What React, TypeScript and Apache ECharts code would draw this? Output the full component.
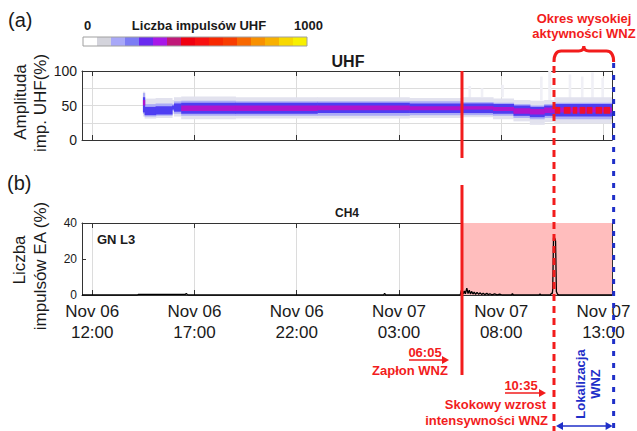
import React, { useEffect, useRef } from 'react';
import * as echarts from 'echarts';

const FONT = '"Liberation Sans", Arial, Helvetica, sans-serif';
const RED = '#f21c1c';
const BLUE = '#1f2fc8';

// x axis: hours counted from Nov 06 00:00
const xMinHour = 11.5;
const xMaxHour = 37.42;
const xTickHours = [12, 17, 22, 27, 32, 37];
const xTickLabels = ['Nov 06\n12:00', 'Nov 06\n17:00', 'Nov 06\n22:00', 'Nov 07\n03:00', 'Nov 07\n08:00', 'Nov 07\n13:00'];

const uhfYLabels = [0, 50, 100];

const ignitionHour = 30 + 5 / 60; // Nov 07 06:05
const jumpHour = 34 + 35 / 60; // Nov 07 10:35
const locateEndHour = 37.5; // Nov 07 13:30

const colorbarColors = [
  '#ffffff', '#d4d4dc', '#a8a8f8', '#7c7cf4', '#6a2af0', '#a818e8', '#c01878', '#f00010',
  '#f81010', '#f82800', '#f83c00', '#f86800', '#f89000', '#f8b000', '#f8d800', '#f8f000',
];

// UHF amplitude band segments (%)
const uhfSegStart = [14.48, 14.56, 15.1, 15.9, 16.0, 16.35, 19.0, 23.0, 27.5, 30.1, 31.6, 32.6, 33.4, 34.1, 34.6];
const uhfSegEnd = [14.56, 15.1, 15.9, 16.0, 16.35, 19.0, 23.0, 27.5, 30.1, 31.6, 32.6, 33.4, 34.1, 34.6, 37.42];
const uhfHaloLow = [34, 31, 32, 38, 34, 30, 31, 31, 32, 33, 30, 27, 22, 26, 24];
const uhfHaloHigh = [70, 60, 61, 58, 62, 63, 62, 62, 61, 62, 60, 58, 57, 58, 62];
const uhfLightLow = [38, 34, 35, 42, 38, 35, 35, 35, 36, 36, 35, 32, 30, 32, 30];
const uhfLightHigh = [68, 52, 53, 52, 56, 57, 56, 56, 56, 55, 54, 52, 50, 52, 54];
const uhfBlueLow = [40, 36, 37, 44, 41, 38, 38, 39, 39, 39, 38, 35, 33, 35, 34];
const uhfBlueHigh = [62, 48, 49, 50, 53, 54, 54, 54, 53, 53, 52, 50, 48, 50, 52];
const uhfCoreLow = [50, null, null, null, null, 42, 42, 43, 43, 44, 42, 38, 37, 39, 40];
const uhfCoreHigh = [58, null, null, null, null, 50, 50, 50, 49, 49, 48, 46, 45, 47, 47];

// red (high count) blocks after 10:35
const uhfRedStart = [34.62, 35.06, 35.5, 35.84, 36.18, 36.62, 37.01];
const uhfRedEnd = [34.86, 35.36, 35.69, 36.09, 36.43, 36.91, 37.3];
const uhfRedLow = [38, 38, 38, 38, 38, 38, 38];
const uhfRedHigh = [48, 48, 48, 48, 48, 48, 48];

// sparse scattered pulses above the band
const uhfScatStart = [30.4, 31.0, 32.0, 33.9, 34.3, 35.3, 35.9, 36.4, 36.9];
const uhfScatEnd = [30.5, 31.1, 32.1, 34.0, 34.42, 35.4, 36.0, 36.5, 37.0];
const uhfScatLow = [60, 62, 62, 58, 58, 58, 58, 60, 58];
const uhfScatHigh = [78, 75, 80, 92, 100, 95, 92, 98, 90];

// CH4 acoustic emission pulse count (%)
const ch4Hours = [11.5, 14.2, 14.25, 16.55, 16.6, 16.65, 16.7, 26.25, 26.3, 26.35,
  30.0, 30.05, 30.08, 30.12, 30.15, 30.2, 30.25, 30.32, 30.38, 30.44,
  30.5, 30.56, 30.62, 30.68, 30.75, 30.82, 30.9, 30.96, 31.05, 31.12,
  31.2, 31.3, 31.38, 31.45, 31.55, 31.68, 31.8, 31.93, 32.05, 32.5,
  32.55, 32.6, 33.85, 33.9, 33.95, 34.4, 34.47, 34.5, 34.52, 34.56,
  34.62, 34.66, 34.7, 34.75, 34.82, 37.42];
const ch4Values = [0, 0, 0.3, 0.3, 0.8, 0.3, 0, 0, 1.0, 0,
  0, 2.5, 0.8, 2.0, 0.6, 2.2, 0.7, 3.8, 0.8, 2.6,
  0.6, 2.0, 0.5, 1.6, 0.4, 1.5, 0.3, 1.2, 0.3, 1.0,
  0.2, 0.9, 0.2, 0.7, 0.1, 0.6, 0.1, 0.5, 0, 0,
  0.8, 0, 0, 0.5, 0, 0, 1.0, 0.8, 3.0, 31.8,
  31.5, 30.0, 2.0, 0.5, 0, 0];

const uhfColors = ['#f0f0f6', '#e2e2ee', '#acacf6', '#4e3ef2', '#b014cc', '#ee1030'];

echarts.graphic.registerShape(
  'brace',
  echarts.graphic.extendPath('M0,16 Q0,5 7,5 L24,5 Q29,5 29,0 Q29,5 34,5 L51,5 Q58,5 58,16', {}) as any
);

function buildUhfData() {
  const d: number[][] = [];
  for (let i = 0; i < uhfScatStart.length; i++) d.push([uhfScatStart[i], uhfScatEnd[i], uhfScatLow[i], uhfScatHigh[i], 0]);
  for (let i = 0; i < uhfSegStart.length; i++) d.push([uhfSegStart[i], uhfSegEnd[i], uhfHaloLow[i], uhfHaloHigh[i], 1]);
  for (let i = 0; i < uhfSegStart.length; i++) d.push([uhfSegStart[i], uhfSegEnd[i], uhfLightLow[i], uhfLightHigh[i], 2]);
  for (let i = 0; i < uhfSegStart.length; i++) d.push([uhfSegStart[i], uhfSegEnd[i], uhfBlueLow[i], uhfBlueHigh[i], 3]);
  for (let i = 0; i < uhfSegStart.length; i++) {
    if (uhfCoreLow[i] != null) d.push([uhfSegStart[i], uhfSegEnd[i], uhfCoreLow[i] as number, uhfCoreHigh[i] as number, 4]);
  }
  for (let i = 0; i < uhfRedStart.length; i++) d.push([uhfRedStart[i], uhfRedEnd[i], uhfRedLow[i], uhfRedHigh[i], 5]);
  return d;
}

function tickLabel(v: number) {
  const i = xTickHours.findIndex((h) => Math.abs(h - v) < 1e-6);
  return i >= 0 ? xTickLabels[i] : '';
}

const axisLineStyle = { color: '#333', width: 1 };
const gridLine = { color: '#dcdcdc', width: 1 };

function xAxisDef(gridIndex: number, position: 'top' | 'bottom', labels: boolean, split: boolean) {
  return {
    type: 'value',
    gridIndex,
    position,
    min: xMinHour,
    max: xMaxHour,
    axisLine: { show: true, onZero: false, lineStyle: axisLineStyle },
    axisTick: { show: true, inside: true, length: 5, customValues: xTickHours, lineStyle: axisLineStyle },
    axisLabel: {
      show: labels,
      customValues: xTickHours,
      formatter: (v: number) => tickLabel(v),
      fontSize: 17,
      lineHeight: 21,
      color: '#1a1a1a',
      fontFamily: FONT,
      margin: 6,
    },
    splitLine: { show: split, lineStyle: gridLine },
  };
}

function text(x: number, y: number, t: string, o: any = {}) {
  return {
    type: 'text',
    x,
    y,
    rotation: o.rotation || 0,
    z: 120,
    style: {
      text: t,
      fill: o.fill || '#1a1a1a',
      fontSize: o.fontSize || 13,
      fontWeight: o.fontWeight || 'normal',
      fontFamily: FONT,
      align: o.align || 'center',
      verticalAlign: 'middle',
    },
  };
}

function vline(x: number, y1: number, y2: number, stroke: string, lineWidth: number, lineDash?: number[]) {
  return {
    type: 'line',
    z: 110,
    shape: { x1: x, y1, x2: x, y2 },
    style: { stroke, lineWidth, lineDash: lineDash || null },
  };
}

function arrow(x1: number, x2: number, y: number, color: string, both: boolean) {
  const els: any[] = [
    { type: 'line', z: 110, shape: { x1: x1 + (both ? 5 : 0), y1: y, x2: x2 - 5, y2: y }, style: { stroke: color, lineWidth: 1.5 } },
    { type: 'polygon', z: 110, shape: { points: [[x2 - 7, y - 4], [x2, y], [x2 - 7, y + 4]] }, style: { fill: color } },
  ];
  if (both) {
    els.push({ type: 'polygon', z: 110, shape: { points: [[x1 + 7, y - 4], [x1, y], [x1 + 7, y + 4]] }, style: { fill: color } });
  }
  return els;
}

export default function App() {
  const ref = useRef<HTMLDivElement>(null);
  useEffect(() => {
    if (!ref.current) return;
    const chart = echarts.init(ref.current, null, { renderer: 'svg' });
    const option: any = {
      animation: false,
      backgroundColor: '#ffffff',
      textStyle: { fontFamily: FONT },
      grid: [
        { left: 82, right: 25, top: 71, height: 69 },
        { left: 82, right: 25, top: 223, height: 72 },
      ],
      xAxis: [
        xAxisDef(0, 'bottom', false, true),
        xAxisDef(0, 'top', false, false),
        xAxisDef(1, 'bottom', true, true),
        xAxisDef(1, 'top', false, false),
      ],
      yAxis: [
        {
          type: 'value', gridIndex: 0, position: 'left', min: 0, max: 100, interval: 25,
          axisLine: { show: true, lineStyle: axisLineStyle },
          axisTick: { show: false },
          axisLabel: {
            fontSize: 14, color: '#1a1a1a', margin: 5, fontFamily: FONT,
            formatter: (v: number) => (uhfYLabels.indexOf(v) >= 0 ? String(v) : ''),
          },
          splitLine: { show: true, lineStyle: gridLine },
        },
        {
          type: 'value', gridIndex: 0, position: 'right', min: 0, max: 100, interval: 25,
          axisLine: { show: true, lineStyle: axisLineStyle },
          axisTick: { show: false }, axisLabel: { show: false }, splitLine: { show: false },
        },
        {
          type: 'value', gridIndex: 1, position: 'left', min: 0, max: 40, interval: 20,
          axisLine: { show: true, lineStyle: axisLineStyle },
          axisTick: { show: true, inside: true, length: 4, lineStyle: axisLineStyle },
          axisLabel: { fontSize: 12, color: '#1a1a1a', margin: 5, fontFamily: FONT },
          splitLine: { show: false },
        },
        {
          type: 'value', gridIndex: 1, position: 'right', min: 0, max: 40, interval: 20,
          axisLine: { show: true, lineStyle: axisLineStyle },
          axisTick: { show: true, inside: true, length: 4, lineStyle: axisLineStyle },
          axisLabel: { show: false }, splitLine: { show: false },
        },
      ],
      series: [
        {
          type: 'custom',
          xAxisIndex: 0,
          yAxisIndex: 0,
          clip: true,
          encode: { x: [0, 1], y: [2, 3] },
          data: buildUhfData(),
          renderItem: (params: any, api: any) => {
            const p0 = api.coord([api.value(0), api.value(3)]);
            const p1 = api.coord([api.value(1), api.value(2)]);
            return {
              type: 'rect',
              shape: { x: p0[0], y: p0[1], width: Math.max(p1[0] - p0[0] + 0.6, 1), height: p1[1] - p0[1] },
              style: { fill: uhfColors[api.value(4)] },
            };
          },
        },
        {
          type: 'line',
          xAxisIndex: 2,
          yAxisIndex: 2,
          data: ch4Hours.map((h, i) => [h, ch4Values[i]]),
          showSymbol: false,
          lineStyle: { color: '#000', width: 1.3 },
          z: 3,
          markArea: {
            silent: true,
            itemStyle: { color: '#ffbdbd', opacity: 1 },
            data: [[{ xAxis: ignitionHour }, { xAxis: xMaxHour }]],
          },
        },
      ],
    };
    chart.setOption(option);

    const X = (h: number) => chart.convertToPixel({ xAxisIndex: 0 }, h) as number;
    const xIgn = X(ignitionHour);
    const xJump = X(jumpHour);
    const xLoc = X(locateEndHour);

    const g: any[] = [];
    colorbarColors.forEach((c, i) => {
      g.push({ type: 'rect', z: 100, shape: { x: 83 + i * 14, y: 37, width: 14, height: 9 }, style: { fill: c } });
    });
    g.push({ type: 'rect', z: 101, shape: { x: 83, y: 37, width: 224, height: 9 }, style: { fill: 'none', stroke: '#a0a0a0', lineWidth: 1 } });
    g.push(text(84, 25, '0', { fontWeight: 'bold', align: 'left' }));
    g.push(text(199, 25, 'Liczba impulsów UHF', { fontWeight: 'bold' }));
    g.push(text(323, 25, '1000', { fontWeight: 'bold', align: 'right' }));

    g.push(text(8, 20, '(a)', { fontSize: 20, align: 'left' }));
    g.push(text(7, 183, '(b)', { fontSize: 20, align: 'left' }));
    g.push(text(348, 61, 'UHF', { fontSize: 16, fontWeight: 'bold' }));
    g.push(text(347, 213, 'CH4', { fontSize: 12, fontWeight: 'bold' }));
    g.push(text(97, 239, 'GN L3', { fontSize: 13, fontWeight: 'bold', align: 'left' }));

    g.push(text(20, 102, 'Amplituda', { fontSize: 17, rotation: Math.PI / 2 }));
    g.push(text(40, 103, 'imp. UHF(%)', { fontSize: 17, rotation: Math.PI / 2 }));
    g.push(text(19, 260, 'Liczba', { fontSize: 17, rotation: Math.PI / 2 }));
    g.push(text(40, 266, 'impulsów EA (%)', { fontSize: 17, rotation: Math.PI / 2 }));

    // event lines
    g.push(vline(xIgn, 71, 158, RED, 3));
    g.push(vline(xIgn, 185, 375, RED, 3));
    g.push(vline(xJump, 66, 431, RED, 3, [7, 5]));
    g.push(vline(xLoc, 63, 431, BLUE, 3, [5, 7]));

    g.push({
      type: 'brace',
      z: 110,
      x: xJump,
      y: 46,
      scaleX: (xLoc - xJump) / 58,
      scaleY: 1,
      style: { stroke: RED, fill: 'none', lineWidth: 3 },
    });
    g.push(text(584, 18, 'Okres wysokiej', { fill: RED, fontWeight: 'bold' }));
    g.push(text(584, 33, 'aktywności WNZ', { fill: RED, fontWeight: 'bold' }));

    g.push(text(425, 352, '06:05', { fill: RED, fontWeight: 'bold' }));
    g.push(...arrow(409, xIgn - 13, 360, RED, false));
    g.push(text(410, 370, 'Zapłon WNZ', { fill: RED, fontWeight: 'bold' }));

    g.push(text(521, 385, '10:35', { fill: RED, fontWeight: 'bold' }));
    g.push(...arrow(505, xJump - 8, 393, RED, false));
    g.push(text(546, 404, 'Skokowy wzrost', { fill: RED, fontWeight: 'bold', align: 'right' }));
    g.push(text(548, 420, 'intensywności WNZ', { fill: RED, fontWeight: 'bold', align: 'right' }));

    g.push(text(580, 384, 'Lokalizacja', { fill: BLUE, fontWeight: 'bold', rotation: Math.PI / 2 }));
    g.push(text(595, 384, 'WNZ', { fill: BLUE, fontWeight: 'bold', rotation: Math.PI / 2 }));
    g.push(...arrow(xJump + 2, xLoc - 1, 426, BLUE, true));

    chart.setOption({ graphic: g });
    return () => chart.dispose();
  }, []);
  return <div ref={ref} style={{ position: 'fixed', left: 0, top: 0, width: 637, height: 431 }} />;
}
